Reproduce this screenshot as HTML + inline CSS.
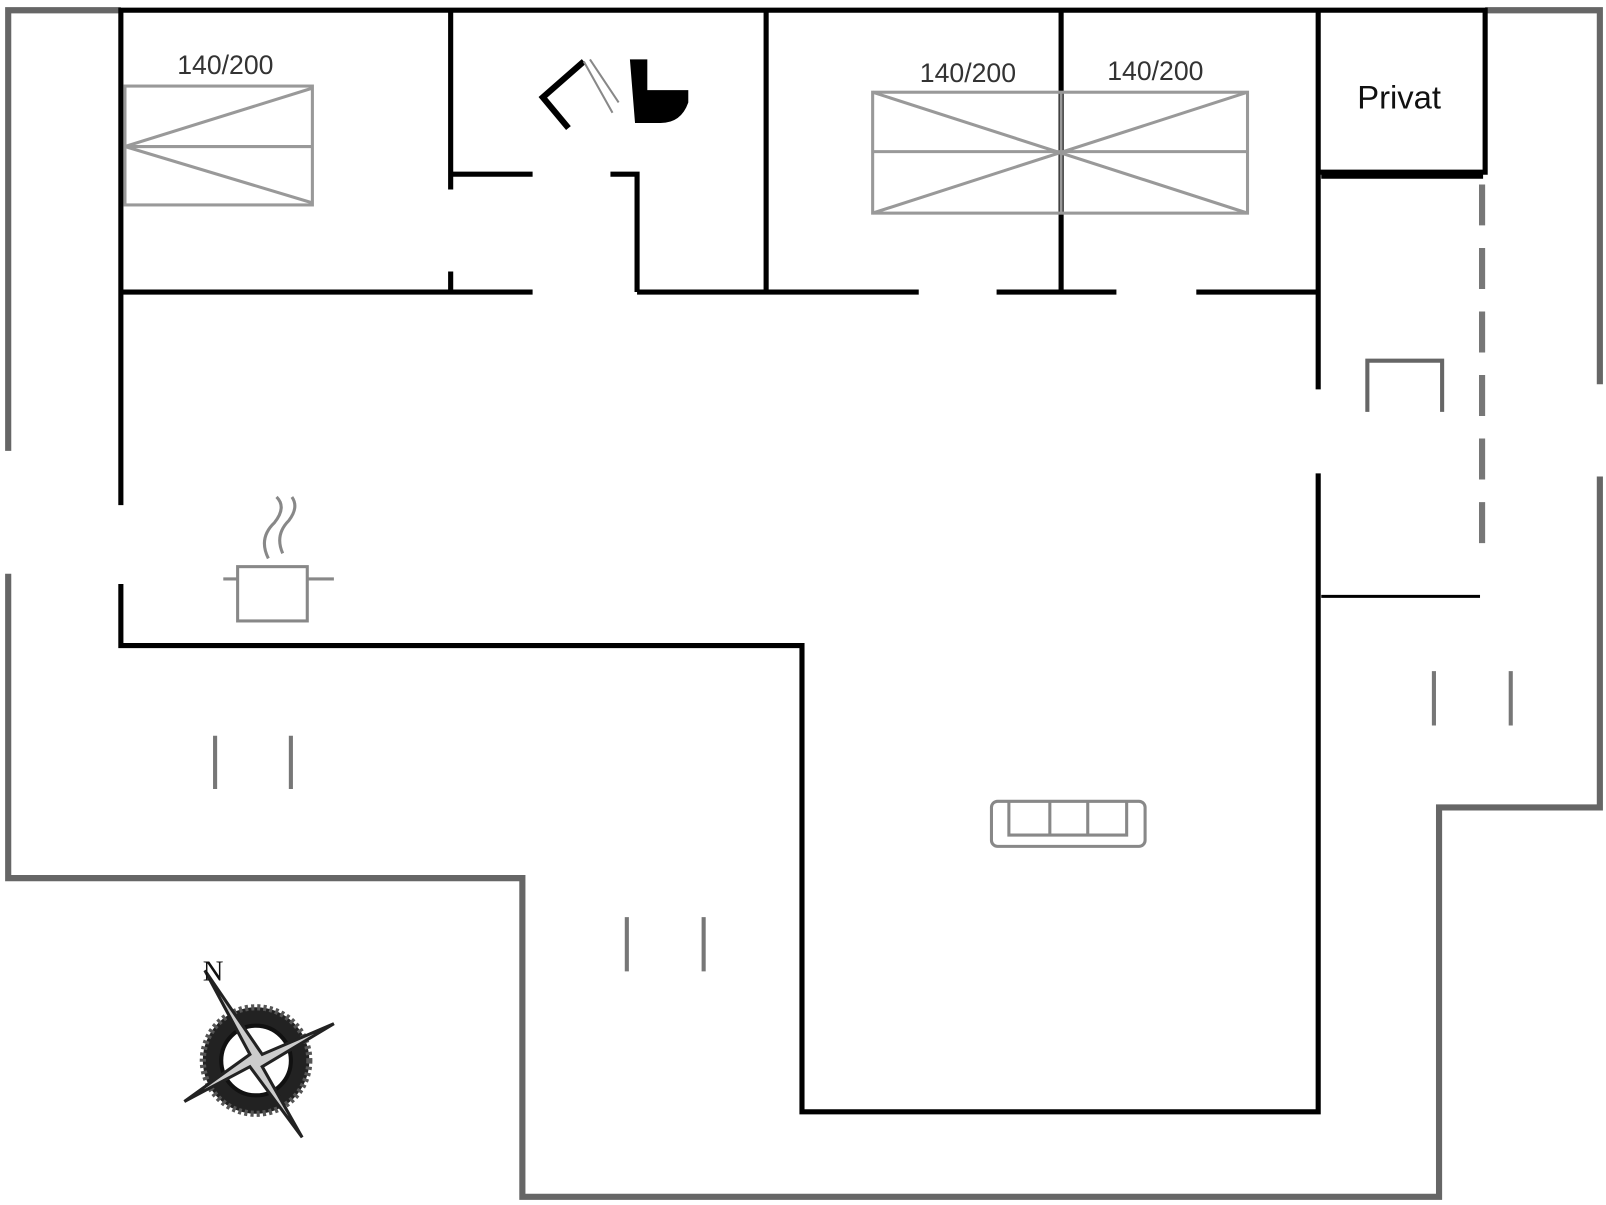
<!DOCTYPE html>
<html><head><style>html,body{margin:0;padding:0;background:#fff}svg{display:block}</style></head>
<body>
<svg width="1606" height="1205" viewBox="0 0 1568 1176" preserveAspectRatio="none" xmlns="http://www.w3.org/2000/svg" font-family="Liberation Sans, sans-serif">
<g fill="none" stroke="#666" stroke-width="6">
<path d="M8 440V10H118"/>
<path d="M1450 10H1562V375"/>
<path d="M1562 465V788H1405V1168H510V857H8V560"/>
</g>
<g fill="none" stroke="#000" stroke-width="5">
<path d="M118 493V10H1450V168H1287"/>
<path d="M118 570V630H783V1085H1287V462"/>
<path d="M1287 380V10"/>
<path d="M1290 172H1448"/>
<path d="M118 285H520M622 285H897M973 285H1090M1168 285H1287"/>
<path d="M440 10V185M440 265V285"/>
<path d="M440 170H520M596 170H622V285"/>
<path d="M748 10V285M1036 10V285"/>
</g>
<path d="M1290 582H1445" stroke="#000" stroke-width="3"/>
<path d="M1447 180V548" stroke="#777" stroke-width="6" stroke-dasharray="40 22"/>
<path d="M1335 402V352H1408V402" fill="none" stroke="#666" stroke-width="4"/>
<g stroke="#777" stroke-width="4">
<path d="M210 718V770M284 718V770M612 895V948M687 895V948M1400 655V708M1475 655V708"/>
</g>
<g fill="none" stroke="#999" stroke-width="3">
<rect x="122" y="84" width="183" height="116"/>
<path d="M122 143H305M122 143L305 86M122 143L305 198"/>
<rect x="852" y="90" width="366" height="118"/>
<path d="M852 148H1218M1036 90V208M852 90L1218 208M852 208L1218 90"/>
</g>
<g font-size="26" fill="#333" text-anchor="middle">
<text x="220" y="72">140/200</text>
<text x="945" y="80">140/200</text>
<text x="1128" y="78">140/200</text>
</g>
<text x="1366" y="106" font-size="32" text-anchor="middle" fill="#111">Privat</text>
<!-- shower -->
<path d="M555 125L530 95L570 60" fill="none" stroke="#000" stroke-width="6"/>
<path d="M570 60L598 110M576 58L604 100" stroke="#888" stroke-width="2"/>
<!-- toilet -->
<path d="M615 58H632V88H672V100Q665 120 645 120H620Z" fill="#000"/>
<!-- pot -->
<g fill="none" stroke="#888" stroke-width="3">
<rect x="232" y="553" width="68" height="53"/>
<path d="M218 565H232M300 565H326"/>
<path d="M262 545Q252 525 268 510Q280 495 270 485M276 540Q268 522 282 508Q292 495 285 485"/>
<rect x="968" y="782" width="150" height="44" rx="6"/>
<path d="M985 782V815H1100V782M1025 782V815M1062 782V815"/>
</g>
<!-- compass -->
<g transform="translate(250,1035)">
<circle r="52" fill="#222" stroke="#555" stroke-width="6" stroke-dasharray="3 3"/>
<circle r="34" fill="#fff" stroke="#111" stroke-width="4"/>
<path d="M-50 -88L6 -6L76 -36L6 6L45 75L-6 6L-70 40L-6 -6Z" fill="#ccc" stroke="#222" stroke-width="3"/>
<text x="-42" y="-78" font-family="Liberation Serif, serif" font-size="28" text-anchor="middle" fill="#111">N</text>
</g>
</svg>
</body></html>
